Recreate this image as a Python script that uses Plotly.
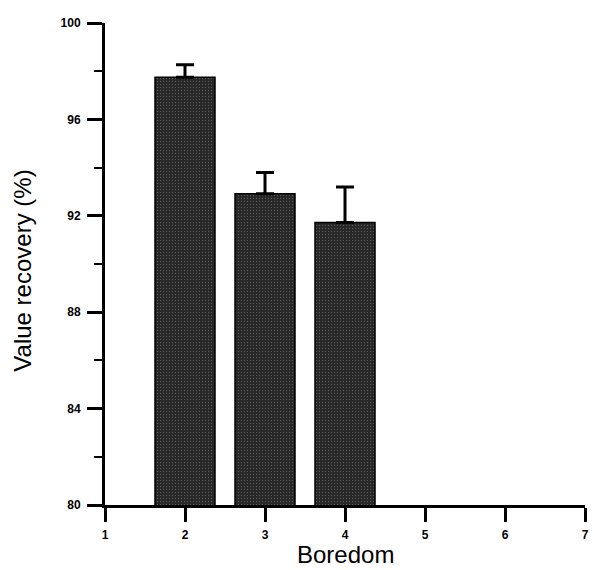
import plotly.graph_objects as go

boredom = [2, 3, 4]
recovery = [97.75, 92.92, 91.72]
err_plus = [0.52, 0.88, 1.48]
err_minus = [0, 0, 0]
x_ticks = [1, 2, 3, 4, 5, 6, 7]
y_ticks = [80, 84, 88, 92, 96, 100]

fig = go.Figure()
fig.add_trace(go.Bar(
    x=boredom, y=recovery, base=0,
    width=0.75,
    marker=dict(color="#2f2f2f", line=dict(color="#000000", width=1.5),
                pattern=dict(shape=".", fgcolor="#5a5a5a", bgcolor="#262626",
                             size=3, solidity=0.15, fillmode="replace")),
    error_y=dict(type="data", symmetric=False, array=err_plus, arrayminus=err_minus,
                 color="#000000", thickness=3, width=9),
    showlegend=False,
))

tick_font = dict(family="Liberation Sans, Arial, sans-serif", size=12, color="#000000",
                 weight="bold")
title_font = dict(family="Liberation Sans, Arial, sans-serif", size=24, color="#000000")

fig.update_layout(
    width=594, height=570,
    margin=dict(l=105, r=5, t=23, b=65),
    paper_bgcolor="white", plot_bgcolor="white",
    xaxis=dict(range=[1, 7], tickvals=x_ticks, ticktext=[str(v) for v in x_ticks],
               showgrid=False, zeroline=False, showline=True, linecolor="#000000",
               linewidth=3, ticks="outside", ticklen=14, tickwidth=2.5,
               tickcolor="#000000", tickfont=tick_font, ticklabelstandoff=3),
    yaxis=dict(range=[80, 100], tickvals=y_ticks, ticktext=[str(v) for v in y_ticks],
               showgrid=False, zeroline=False, showline=True, linecolor="#000000",
               linewidth=3, ticks="outside", ticklen=15, tickwidth=2.5,
               tickcolor="#000000", tickfont=tick_font, ticklabelstandoff=4,
               minor=dict(tick0=80, dtick=2, ticks="outside", ticklen=8,
                          tickwidth=2, tickcolor="#000000", showgrid=False)),
    annotations=[
        dict(text="Value recovery (%)", xref="paper", yref="paper",
             x=-0.1715, y=0.4855, textangle=-90, showarrow=False,
             font=title_font, xanchor="center", yanchor="middle"),
        dict(text="Boredom", xref="paper", yref="paper",
             x=0.502, y=-0.103, showarrow=False,
             font=title_font, xanchor="center", yanchor="middle"),
    ],
)

fig.write_html("out.html", config={"displayModeBar": False},
               post_script="document.body.style.margin='0px';")
